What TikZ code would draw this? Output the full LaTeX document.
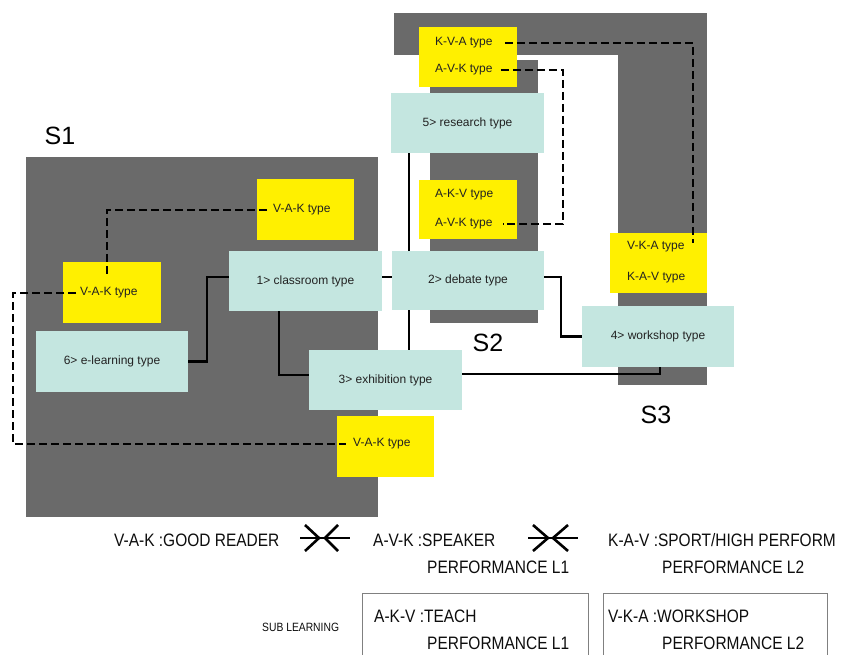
\documentclass[tikz,border=0pt]{standalone}
\usepackage{fontspec}
\setmainfont{Liberation Sans}
\newfontfamily\condf[FakeStretch=0.86]{Liberation Sans}
\usetikzlibrary{calc}
\definecolor{greyS}{HTML}{6A6A6A}
\definecolor{tealbox}{HTML}{C4E6E0}
\definecolor{yellowbox}{HTML}{FFF000}
\definecolor{txtc}{HTML}{222222}
\definecolor{legline}{HTML}{808080}
\tikzset{
 greyshape/.style={fill=greyS, draw=none},
 learn/.style={fill=tealbox, draw=none, minimum width=153pt, minimum height=60pt, inner sep=0, font=\fontsize{12}{14}\selectfont, text=txtc},
 ybox/.style={fill=yellowbox, draw=none, minimum width=97pt, minimum height=61pt, inner sep=0},
 ytext/.style={inner sep=0, anchor=west, font=\fontsize{12}{14}\selectfont, text=txtc},
 conn/.style={draw=black, line width=2.5pt},
 dconn/.style={draw=black, line width=2.7pt, dash pattern=on 8pt off 4pt},
 slabel/.style={font=\fontsize{25}{30}\selectfont, inner sep=0},
 legend/.style={font=\condf\fontsize{18}{22}\selectfont, inner sep=0, anchor=base west, text=black!95},
 legbox/.style={draw=legline, line width=1.2pt, fill=none, inner sep=0, anchor=north west},
 symb/.style={draw=black, line width=2.6pt},
}
\begin{document}
\begin{tikzpicture}[x=1pt,y=-1pt]
\useasboundingbox (0,0) rectangle (846,655);
\clip (0,0) rectangle (846,655);
\fill[white] (0,0) rectangle (846,655);

% grey regions
\fill[greyshape] (26,157) rectangle (378,517);
\fill[greyshape] (394,13) rectangle (707,55);
\fill[greyshape] (618,13) rectangle (707,385);
\fill[greyshape] (430,60) rectangle (538,323);

% labels
\node[slabel] (s1) at (60,136) {S1};
\node[slabel] (s2) at (488,343) {S2};
\node[slabel] (s3) at (656,415) {S3};

% yellow boxes
\node[ybox, minimum width=98pt, minimum height=60pt] (ytop) at (468,57) {};
\node[ytext] (kvaT) at (435,43) {K-V-A type};
\node[ytext] (avkT1) at (435,70) {A-V-K type};

\node[ybox, minimum width=98pt, minimum height=59pt] (ymid) at (468,209.5) {};
\node[ytext] (akvT) at (435,195) {A-K-V type};
\node[ytext] (avkT2) at (435,224) {A-V-K type};

\node[ybox, minimum height=60pt] (yright) at (658.5,263) {};
\node[ytext] (vkaT) at (627,247) {V-K-A type};
\node[ytext] (kavT) at (627,278) {K-A-V type};

\node[ybox] (yvaktop) at (305.5,209.5) {};
\node[ytext] (vakTopT) at (273,210) {V-A-K type};

\node[ybox, minimum width=98pt] (yvakleft) at (112,292.5) {};
\node[ytext] (vakLeftT) at (80,293) {V-A-K type};

\node[ybox] (yvakbot) at (385.5,446.5) {};
\node[ytext] (vakBotT) at (353,444) {V-A-K type};

% learning boxes
\node[learn] (research) at (467.5,123) {5> research type};
\node[learn, minimum width=152pt, minimum height=59pt] (debate) at (468,280.5) {2> debate type};
\node[learn, minimum width=152pt, minimum height=61pt] (workshop) at (658,336.5) {4> workshop type};
\node[learn] (exhibition) at (385.5,380) {3> exhibition type};
\node[learn] (classroom) at (305.5,281) {1> classroom type};
\node[learn, minimum width=152pt, minimum height=61pt] (elearning) at (112,361.5) {6> e-learning type};

% solid connectors
\draw[conn] (elearning.east) -- ++(19,0) |- ([yshift=4pt]classroom.west);
\draw[conn] ([xshift=-26.5pt]classroom.south) |- ([yshift=5pt]exhibition.west);
\draw[conn] ([yshift=4pt]classroom.east) -- ([yshift=4pt]classroom.east -| debate.west);
\draw[conn] ([xshift=-58.5pt]research.south) -- ([xshift=-58.5pt]research.south |- debate.north);
\draw[conn] ([xshift=-59pt]debate.south) -- ([xshift=-59pt]debate.south |- exhibition.north);
\draw[conn] ([yshift=3.5pt]debate.east) -- ++(17,0) |- (workshop.west);
\draw[conn] ([yshift=6pt]exhibition.east) -| ([xshift=2pt]workshop.south);

% dashed connectors
\coordinate (d1end) at (107,275);
\coordinate (d2b) at (13,444);
\coordinate (d3end) at (693,243);
\coordinate (d4c) at (563,224);
\draw[dconn] ([xshift=-6pt]vakTopT.west) -| (d1end);
\draw[dconn] ([xshift=-4pt]vakLeftT.west) -| (d2b) -- ([xshift=-7pt]vakBotT.west);
\draw[dconn] ([xshift=12pt]kvaT.east) -| (d3end);
\draw[dconn] ([xshift=8pt]avkT1.east) -| (d4c) -- ([xshift=10pt]avkT2.east);

% legend
\node[legend] (lvak) at (114,546) {V-A-K :GOOD READER};
\draw[symb] (300,538) -- (350,538);
\draw[symb] (305,525) -- (319,538) -- (305,551);
\draw[symb] (338,525) -- (325,538) -- (338,551);
\node[legend] (lavk) at (373,546) {A-V-K :SPEAKER};
\node[legend] (lavkp) at (427,573) {PERFORMANCE L1};
\draw[symb] (528,538) -- (578,538);
\draw[symb] (533,525) -- (548,538) -- (533,551);
\draw[symb] (568,525) -- (553,538) -- (568,551);
\node[legend] (lkav) at (608,546) {K-A-V :SPORT/HIGH PERFORM};
\node[legend] (lkavp) at (662,573) {PERFORMANCE L2};

\node[legend, font=\condf\fontsize{12}{14}\selectfont] (sub) at (262,631) {SUB LEARNING};
\node[legbox, minimum width=226pt, minimum height=75pt] (box1) at (362,593) {};
\node[legbox, minimum width=224pt, minimum height=75pt] (box2) at (603,593) {};
\node[legend] (lakv) at (374,622) {A-K-V :TEACH};
\node[legend] (lakvp) at (427,649) {PERFORMANCE L1};
\node[legend] (lvka) at (608,622) {V-K-A :WORKSHOP};
\node[legend] (lvkap) at (662,649) {PERFORMANCE L2};
\end{tikzpicture}
\end{document}
